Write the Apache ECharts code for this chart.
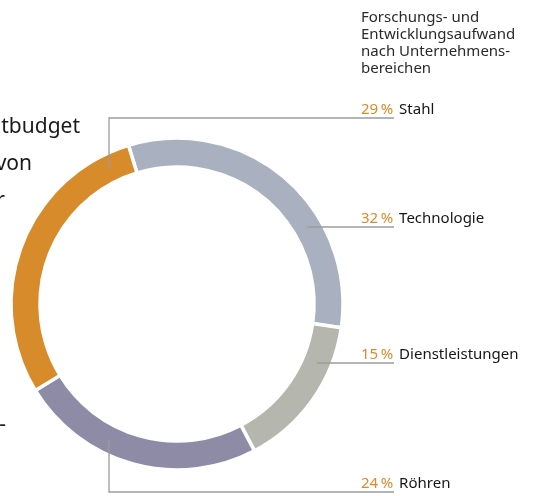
<!DOCTYPE html>
<html lang="de">
<head>
<meta charset="UTF-8" />
<title>F&E-Aufwand</title>
<script src="https://cdn.jsdelivr.net/npm/echarts@6/dist/echarts.min.js"></script>
<style>
  html, body { margin: 0; padding: 0; background: #fff; }
  #chart { width: 533px; height: 496px; }
</style>
</head>
<body>
<div id="chart"></div>
<script>
// data
const bereiche = ['Technologie', 'Dienstleistungen', 'Röhren', 'Stahl']
const anteile = [32, 15, 24, 29]
const farben = ['#a9b0bf', '#b5b7af', '#8e8ba7', '#d88b2a']

// label rows on the right (y of each leader line) and how the leader runs
const rowY = [227, 363, 492, 118]
const leaderKind = ['h', 'h', 'v', 'v']

const cx = 177, cy = 304
const rIn = 137, rOut = 166
const rMid = (rIn + rOut) / 2
const leaderX = 109
const labelX = 361
const lineEnd = 394

const font = '"Noto Sans", sans-serif'

const chart = echarts.init(document.getElementById('chart'), null, { renderer: 'canvas' })

// leader line from the middle of the ring to the end of the label row
function leaderPoints(i) {
  const ly = rowY[i]
  if (leaderKind[i] === 'h') {
    const dy = ly - cy
    const ax = cx + Math.sqrt(rMid * rMid - dy * dy)
    return [[ax, ly], [lineEnd, ly]]
  }
  const dx = leaderX - cx
  const s = ly < cy ? -1 : 1
  const ay = cy + s * Math.sqrt(rMid * rMid - dx * dx)
  return [[leaderX, ay], [leaderX, ly], [lineEnd, ly]]
}

function layoutLabel(p) {
  return {
    x: labelX,
    y: rowY[p.dataIndex] - 1,
    align: 'left',
    verticalAlign: 'bottom'
  }
}

const leaderLines = bereiche.map((b, i) => ({
  type: 'polyline',
  z: 100,
  silent: true,
  shape: { points: leaderPoints(i) },
  style: { stroke: '#9c9c9c', lineWidth: 1.3, fill: null }
}))

const bodyText = [
  ['tbudget', 80, 127],
  ['von', 32, 164],
  ['r', 5, 201],
  ['-', 6, 425]
].map(t => ({
  type: 'text',
  silent: true,
  style: { text: t[0], x: t[1], y: t[2], align: 'right', verticalAlign: 'middle', font: '21px ' + font, fill: '#1a1a1a' }
}))

const option = {
  animation: false,
  title: {
    text: 'Forschungs- und\nEntwicklungsaufwand\nnach Unternehmens-\nbereichen',
    left: labelX - 5,
    top: 4,
    textStyle: {
      fontFamily: font,
      fontSize: 15,
      fontWeight: 'normal',
      color: '#2a2a2a',
      lineHeight: 17
    }
  },
  graphic: bodyText.concat(leaderLines),
  series: [
    {
      type: 'pie',
      center: [cx, cy],
      radius: [rIn, rOut],
      startAngle: 107,
      clockwise: true,
      avoidLabelOverlap: false,
      silent: true,
      itemStyle: { borderColor: '#fff', borderWidth: 3.5 },
      label: {
        show: true,
        position: 'outside',
        formatter: p => '{p|' + p.value + '\u2009%}{n|' + p.name + '}',
        rich: {
          p: { fontFamily: font, fontSize: 15, color: '#d98b2c' },
          n: { fontFamily: font, fontSize: 15, color: '#161616', padding: [0, 0, 0, 6] }
        }
      },
      labelLine: { show: false },
      labelLayout: layoutLabel,
      data: bereiche.map((name, i) => ({
        name: name,
        value: anteile[i],
        itemStyle: { color: farben[i] }
      }))
    }
  ]
}

chart.setOption(option)
</script>
</body>
</html>
